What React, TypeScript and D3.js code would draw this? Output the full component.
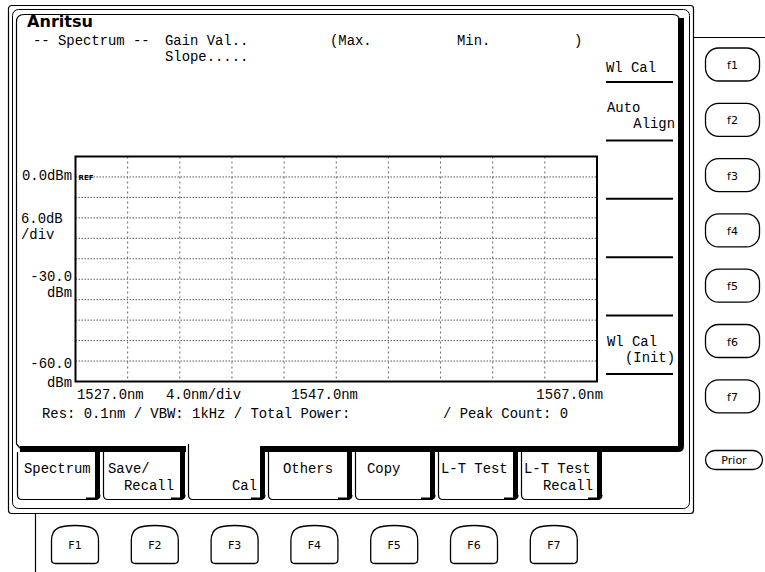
import React from "react";
import * as d3 from "d3";

const W = 765;
const H = 572;

// ---- chart data ----
const wavelengthStart = 1527.0; // nm
const wavelengthStop = 1567.0; // nm
const nmPerDiv = 4.0;
const refLevelDbm = 0.0;
const dbPerDiv = 6.0;
const levelBottomDbm = -60.0;
const levelTopDbm = 6.0;

const xAxisLabels = ["1527.0nm", "4.0nm/div", "1547.0nm", "1567.0nm"];
const yAxisLabels = ["0.0dBm", "6.0dB", "/div", "-30.0", "dBm", "-60.0", "dBm"];
const logoText = "Anritsu";
const headerRow1 = ["-- Spectrum --", "Gain Val..", "(Max.", "Min.", ")"];
const headerRow2 = ["Slope....."];
const statusLeft = "Res: 0.1nm / VBW: 1kHz / Total Power:";
const statusRight = "/ Peak Count:  0";
const softMenu = [["Wl Cal"], ["Auto", "Align"], [], [], [], ["Wl Cal", "(Init)"], []];
const sideKeys = ["f1", "f2", "f3", "f4", "f5", "f6", "f7"];
const tabLabels = [["Spectrum"], ["Save/", "Recall"], ["", "Cal"], ["Others"], ["Copy"], ["L-T Test"], ["L-T Test", "Recall"]];
const activeTab = 2;
const bottomKeys = ["F1", "F2", "F3", "F4", "F5", "F6", "F7"];
const priorKey = "Prior";

// ---- layout ----
const plot = { left: 75.5, right: 597, top: 156.5, bottom: 381.5 };
const MONO = "'Liberation Mono', 'DejaVu Sans Mono', monospace";
const SANS = "'DejaVu Sans', 'Liberation Sans', sans-serif";
const FS = 13.9;

const tabEdges: [number, number][] = [
  [17, 100], [103, 185], [188, 265], [268, 352], [355, 435], [438, 518], [521, 602],
];
const tabAlign: [string, number, string, number][] = [
  ["start", 7, "end", -8], ["start", 5, "end", -11], ["start", 5, "end", -8],
  ["middle", 0, "end", -8], ["start", 12, "end", -8], ["start", 3, "end", -8], ["start", 3, "end", -9],
];

function domeKey(cx: number, top: number, w: number, h: number) {
  const x0 = cx - w / 2, x1 = cx + w / 2, y1 = top + h;
  return `M${x0},${y1 - 4} V${top + 15} C${x0},${top + 2} ${x0 + 9},${top} ${cx},${top} C${x1 - 9},${top} ${x1},${top + 2} ${x1},${top + 15} V${y1 - 4} Q${x1},${y1} ${x1 - 4},${y1} H${x0 + 4} Q${x0},${y1} ${x0},${y1 - 4} Z`;
}

export default function App() {
  const x = d3.scaleLinear().domain([wavelengthStart, wavelengthStop]).range([plot.left, plot.right]);
  const y = d3.scaleLinear().domain([levelBottomDbm, levelTopDbm]).range([plot.bottom, plot.top]);
  const vTicks = d3.range(wavelengthStart + nmPerDiv, wavelengthStop - 0.01, nmPerDiv);
  const hTicks = d3.range(levelBottomDbm + dbPerDiv, refLevelDbm + 0.01, dbPerDiv);

  const menuLineY = (i: number) => 82 + i * 58.4;
  const sideKeyTop = (i: number) => 48 + i * 55.3;
  const bottomKeyCx = (i: number) => 75 + i * 79.8;

  const [cal0, cal1] = tabEdges[activeTab];

  return (
    <svg width={W} height={H} viewBox={`0 0 ${W} ${H}`}
      style={{ position: "absolute", left: 0, top: 0, background: "#fff" }}>
      <rect x={0} y={0} width={W} height={H} fill="#fff" />

      {/* instrument frame */}
      <rect x={8.5} y={5.5} width={685} height={508} rx={3} fill="none" stroke="#000" strokeWidth={1.2} />
      <rect x={12.5} y={9.5} width={677} height={499} rx={6} fill="none" stroke="#000" strokeWidth={1} />
      <line x1={693.5} y1={37.5} x2={765} y2={37.5} stroke="#000" strokeWidth={1.2} />
      <line x1={35.5} y1={514} x2={35.5} y2={572} stroke="#000" strokeWidth={1.2} />

      {/* screen */}
      <path d="M16.5,444 V22 Q16.5,14.5 24,14.5 H672 Q678,14.5 679,18" fill="none" stroke="#000" strokeWidth={1.2} />
      <path d={`M678,18 H684 V446 Q684,452 678,452 H${cal1 - 3} V446 H678 Z`} fill="#000" />
      <rect x={20} y={446} width={cal0 - 2 - 20} height={6} fill="#000" />
      <path d="M16.5,444 L21,449" stroke="#000" strokeWidth={1.2} />

      {/* header */}
      <text x={27} y={27} fontFamily={SANS} fontWeight="bold" fontSize={15} textLength={66} lengthAdjust="spacingAndGlyphs">{logoText}</text>
      <g fontFamily={MONO} fontSize={FS}>
        {headerRow1.map((t, i) => (
          <text key={t} x={[33, 165, 330, 457, 574][i]} y={45}>{t}</text>
        ))}
        {headerRow2.map((t) => (
          <text key={t} x={165} y={61}>{t}</text>
        ))}
      </g>

      {/* plot grid */}
      <g>
        {hTicks.map((v) => (
          <line key={"h" + v} x1={plot.left} x2={plot.right} y1={y(v)} y2={y(v)} stroke="#444" strokeWidth={0.9} strokeDasharray="1.5 1.5" />
        ))}
        {vTicks.map((v) => (
          <line key={"v" + v} x1={x(v)} x2={x(v)} y1={plot.top} y2={plot.bottom} stroke="#555" strokeWidth={0.9} strokeDasharray="2 3" />
        ))}
        <rect x={plot.left} y={plot.top} width={plot.right - plot.left} height={plot.bottom - plot.top} fill="none" stroke="#000" strokeWidth={2} />
        <text x={plot.left + 3} y={y(refLevelDbm) + 3} fontFamily={SANS} fontWeight="bold" fontSize={7}>REF</text>
      </g>

      {/* y axis labels */}
      <g fontFamily={MONO} fontSize={FS}>
        <text x={72} y={y(refLevelDbm) + 3.5} textAnchor="end">{yAxisLabels[0]}</text>
        <text x={21} y={y(-12) + 5}>{yAxisLabels[1]}</text>
        <text x={21} y={y(-12) + 21}>{yAxisLabels[2]}</text>
        <text x={72} y={y(-30) + 1.5} textAnchor="end">{yAxisLabels[3]}</text>
        <text x={72} y={y(-30) + 17.5} textAnchor="end">{yAxisLabels[4]}</text>
        <text x={72} y={y(-54) + 6.5} textAnchor="end">{yAxisLabels[5]}</text>
        <text x={72} y={y(-60) + 5.5} textAnchor="end">{yAxisLabels[6]}</text>
      </g>

      {/* x axis labels & status */}
      <g fontFamily={MONO} fontSize={FS}>
        <text x={x(wavelengthStart) + 1.5} y={399}>{xAxisLabels[0]}</text>
        <text x={166} y={399}>{xAxisLabels[1]}</text>
        <text x={x((wavelengthStart + wavelengthStop) / 2) - 45} y={399}>{xAxisLabels[2]}</text>
        <text x={x(wavelengthStop) + 6} y={399} textAnchor="end">{xAxisLabels[3]}</text>
        <text x={42} y={418}>{statusLeft}</text>
        <text x={443} y={418}>{statusRight}</text>
      </g>

      {/* soft menu */}
      <g fontFamily={MONO} fontSize={FS}>
        {softMenu.map((lines, i) => {
          const ly = menuLineY(i);
          return (
            <g key={"m" + i}>
              {i < 6 && <line x1={606} x2={673} y1={ly} y2={ly} stroke="#000" strokeWidth={2} />}
              {lines.length === 1 && <text x={606} y={ly - 10}>{lines[0]}</text>}
              {lines.length === 2 && (
                <>
                  <text x={607} y={ly - 28}>{lines[0]}</text>
                  <text x={675} y={ly - 12} textAnchor="end">{lines[1]}</text>
                </>
              )}
            </g>
          );
        })}
      </g>

      {/* side keys */}
      <g fontFamily={SANS} fontSize={11}>
        {sideKeys.map((k, i) => (
          <g key={k}>
            <rect x={705.5} y={sideKeyTop(i)} width={54} height={33} rx={13} fill="#fff" stroke="#000" strokeWidth={1.3} />
            <text x={732.5} y={sideKeyTop(i) + 21} textAnchor="middle">{k}</text>
          </g>
        ))}
        <rect x={705.5} y={450.5} width={57} height={19} rx={9.5} fill="#fff" stroke="#000" strokeWidth={1.3} />
        <text x={734} y={464} textAnchor="middle">{priorKey}</text>
      </g>

      {/* tabs */}
      <g fontFamily={MONO} fontSize={FS}>
        {tabLabels.map((lines, i) => {
          const [x0, x1] = tabEdges[i];
          const active = i === activeTab;
          const top = active ? 444 : 452;
          const [a1, d1, a2, d2] = tabAlign[i];
          const pos = (a: string, d: number) => (a === "start" ? x0 + d : a === "end" ? x1 + d : (x0 + x1) / 2 - 2);
          return (
            <g key={"t" + i}>
              <path d={`M${x0 + 0.5},${top} V495 Q${x0 + 0.5},499.5 ${x0 + 5},499.5 H${x1 - 5} Q${x1},499.5 ${x1},495`} fill="#fff" stroke="#000" strokeWidth={1.2} />
              <rect x={x1 - 5} y={active ? 446 : 452} width={5} height={45} fill="#000" />
              <path d={`M${x1 - 5},491 H${x1} V494 Q${x1},500 ${x1 - 6},500 H${x1 - 14} V497.5 H${x1 - 5} Z`} fill="#000" />
              {lines[0] && <text x={pos(a1, d1)} y={473} textAnchor={a1}>{lines[0]}</text>}
              {lines[1] && <text x={pos(a2, d2)} y={490} textAnchor={a2}>{lines[1]}</text>}
            </g>
          );
        })}
      </g>

      {/* bottom function keys */}
      <g fontFamily={SANS} fontSize={11}>
        {bottomKeys.map((k, i) => (
          <g key={k}>
            <path d={domeKey(bottomKeyCx(i), 525.5, 47, 38)} fill="#fff" stroke="#000" strokeWidth={1.3} />
            <text x={bottomKeyCx(i)} y={549} textAnchor="middle">{k}</text>
          </g>
        ))}
      </g>
    </svg>
  );
}
